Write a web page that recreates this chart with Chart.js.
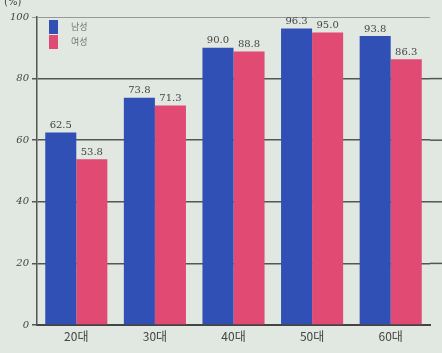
<!DOCTYPE html>
<html>
<head>
<meta charset="utf-8">
<script src="https://cdn.jsdelivr.net/npm/chart.js@4/dist/chart.umd.min.js"></script>
<style>
  html, body { margin: 0; padding: 0; background: #e1e7e1; }
  #wrap { width: 442px; height: 353px; }
</style>
</head>
<body>
<div id="wrap"><canvas id="barChart" width="442" height="353"></canvas></div>
<script>
const ageGroups = ['20대', '30대', '40대', '50대', '60대'];
const seriesNames = ['남성', '여성'];
const maleValues = [62.5, 73.8, 90.0, 96.3, 93.8];
const femaleValues = [53.8, 71.3, 88.8, 95.0, 86.3];
const yTicks = [0, 20, 40, 60, 80, 100];

const blue = '#3150b6';
const pink = '#e14a73';

// value labels above the bars + legend inside the plot + unit label
const extrasPlugin = {
    id: 'extras',
    afterDatasetsDraw(chart) {
        const ctx = chart.ctx;
        const area = chart.chartArea;
        ctx.save();
        ctx.fillStyle = '#444';
        ctx.font = '10px "DejaVu Serif"';
        ctx.textAlign = 'center';
        ctx.textBaseline = 'bottom';
        chart.data.datasets.forEach((ds, i) => {
            chart.getDatasetMeta(i).data.forEach((bar, j) => {
                ctx.fillText(ds.data[j].toFixed(1), bar.x, bar.y - 2);
            });
        });

        // legend
        ctx.textAlign = 'left';
        ctx.textBaseline = 'middle';
        ctx.font = '9px "Noto Sans CJK KR"';
        chart.data.datasets.forEach((ds, i) => {
            const y = area.top + 3 + i * 15;
            ctx.fillStyle = ds.backgroundColor;
            ctx.fillRect(area.left + 12, y, 9, 14);
            ctx.fillStyle = '#777';
            ctx.fillText(ds.label, area.left + 34, y + 7);
        });

        ctx.fillStyle = '#444';
        ctx.font = '10px "DejaVu Sans"';
        ctx.fillText('(%)', 4, 2);

        // frame lines run on to the right edge, as in the drawing
        ctx.strokeStyle = '#555';
        ctx.lineWidth = 1.5;
        const yScale = chart.scales.y;
        [20, 40, 60, 80].forEach(v => {
            const y = yScale.getPixelForValue(v);
            ctx.beginPath();
            ctx.moveTo(area.right, y);
            ctx.lineTo(chart.width, y);
            ctx.stroke();
        });
        ctx.restore();
    }
};

new Chart(document.getElementById('barChart').getContext('2d'), {
    type: 'bar',
    data: {
        labels: ageGroups,
        datasets: [
            { label: seriesNames[0], data: maleValues, backgroundColor: blue },
            { label: seriesNames[1], data: femaleValues, backgroundColor: pink }
        ]
    },
    options: {
        responsive: false,
        animation: false,
        layout: { padding: { top: 17, right: 12, left: 0, bottom: 0 } },
        datasets: {
            bar: { categoryPercentage: 0.79, barPercentage: 1.0 }
        },
        plugins: {
            legend: { display: false },
            tooltip: { enabled: false }
        },
        scales: {
            x: {
                grid: { display: false, drawTicks: false },
                border: { color: '#444', width: 2 },
                ticks: {
                    color: '#444',
                    font: { size: 12, family: '"Noto Sans CJK KR"' },
                    padding: 4
                },
                afterFit(scale) { scale.height = 28; }
            },
            y: {
                min: 0,
                max: 100,
                afterBuildTicks(scale) {
                    scale.ticks = yTicks.map(v => ({ value: v }));
                },
                grid: {
                    color: ctx => ctx.tick.value === 100 ? '#999' : '#555',
                    lineWidth: ctx => ctx.tick.value === 100 ? 1 : 1.5,
                    tickLength: 5
                },
                border: { color: '#555', width: 1.5 },
                ticks: {
                    color: '#444',
                    font: { size: 10, style: 'italic', family: '"DejaVu Serif"' },
                    padding: 3
                },
                afterFit(scale) { scale.width = 37; }
            }
        }
    },
    plugins: [extrasPlugin]
});
</script>
</body>
</html>
